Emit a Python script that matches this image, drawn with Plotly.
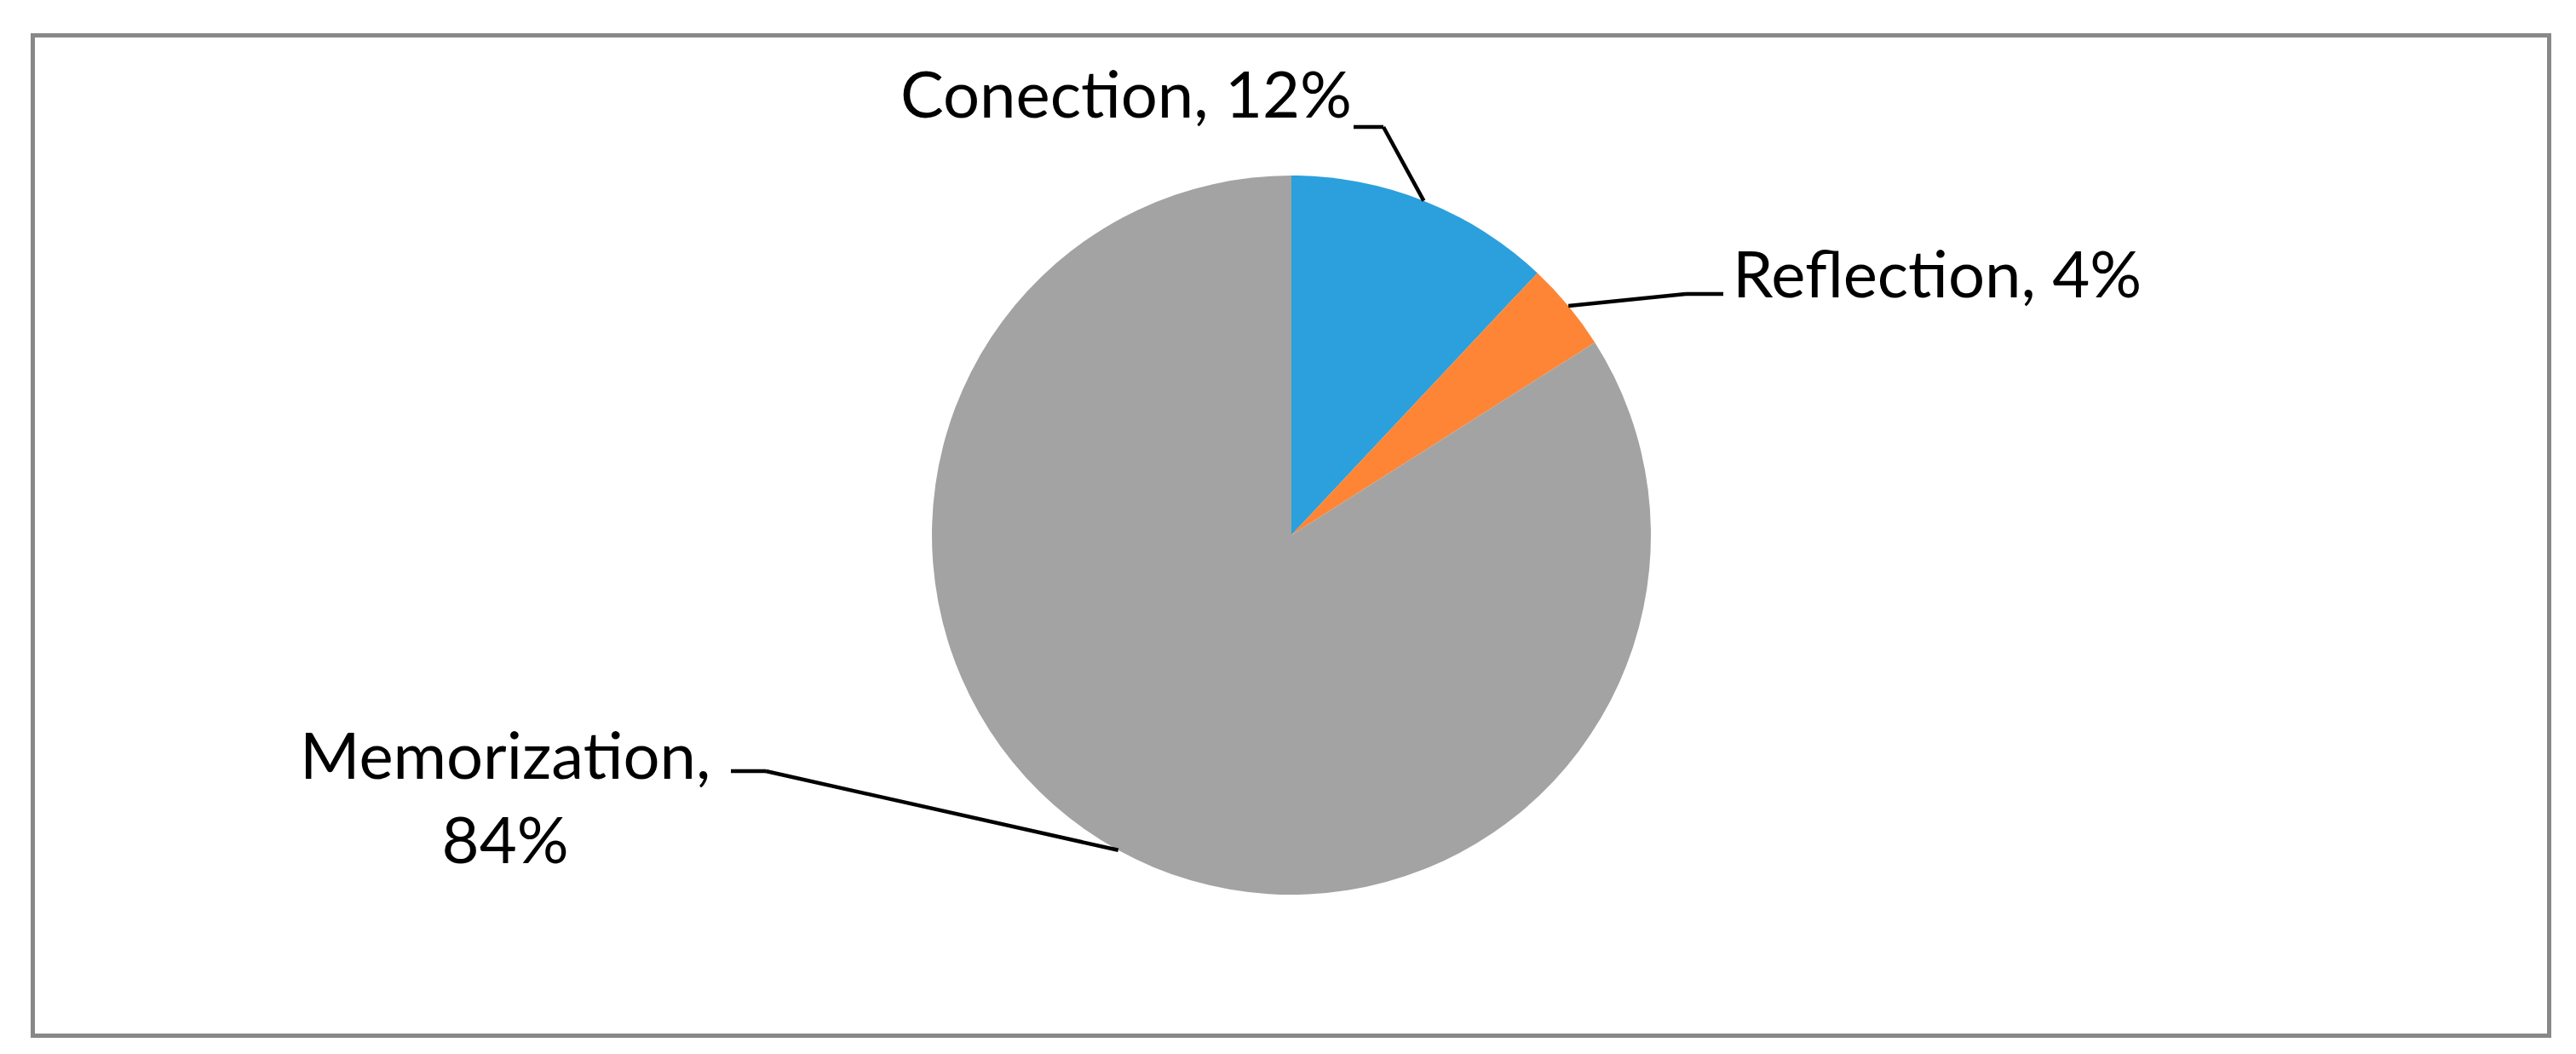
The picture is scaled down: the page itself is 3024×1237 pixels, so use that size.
import math
import plotly.graph_objects as go

# ---- data ----
categories = ["Conection", "Reflection", "Memorization"]
values = [12, 4, 84]
label_texts = ["Conection, 12%", "Reflection, 4%", "Memorization,<br>84%"]
colors = ["#2ba0dc", "#fe8536", "#a3a3a3"]

W, H = 3024, 1237
CX, CY, R = 1508, 620, 422  # pie centre / radius in pixels

def px(x):
    return x / W

def py(y):
    return 1 - y / H

fig = go.Figure(go.Pie(
    labels=categories,
    values=values,
    sort=False,
    direction="clockwise",
    rotation=0,
    marker=dict(colors=colors, line=dict(width=0)),
    textinfo="none",
    hoverinfo="label+percent",
    showlegend=False,
    domain=dict(x=[px(CX - R), px(CX + R)], y=[py(CY + R), py(CY - R)]),
))

# leader-line geometry (elbow point, end point) and label positions in pixels
elbows = [(1616, 141), (1971, 337), (891, 897)]
ends = [(1581, 141), (2015, 337), (850, 897)]
label_pos = [(1314, 100), (2266, 312), (585, 926)]

total = sum(values)
cum = 0
shapes = []
annotations = []
for i, v in enumerate(values):
    mid = (cum + v / 2) / total * 2 * math.pi
    cum += v
    ex = CX + R * math.sin(mid)
    ey = CY - R * math.cos(mid)
    (bx, by), (tx, ty) = elbows[i], ends[i]
    for (x0, y0, x1, y1) in [(ex, ey, bx, by), (bx, by, tx, ty)]:
        shapes.append(dict(type="line", xref="paper", yref="paper",
                           x0=px(x0), y0=py(y0), x1=px(x1), y1=py(y1),
                           line=dict(color="#000000", width=4.5)))
    lx, ly = label_pos[i]
    annotations.append(dict(text=label_texts[i], xref="paper", yref="paper",
                            x=px(lx), y=py(ly), xanchor="center", yanchor="middle",
                            showarrow=False, align="center",
                            font=dict(family="Lato, 'Open Sans', sans-serif", size=76, color="#000000")))

# outer border
shapes.append(dict(type="rect", xref="paper", yref="paper",
                   x0=px(30.5), y0=py(1207.5), x1=px(2984.5), y1=py(33.5),
                   line=dict(color="#888888", width=5), fillcolor="rgba(0,0,0,0)"))

fig.update_layout(
    width=W, height=H,
    margin=dict(l=0, r=0, t=0, b=0),
    paper_bgcolor="#ffffff",
    plot_bgcolor="#ffffff",
    shapes=shapes,
    annotations=annotations,
)

fig.write_html("out.html")
